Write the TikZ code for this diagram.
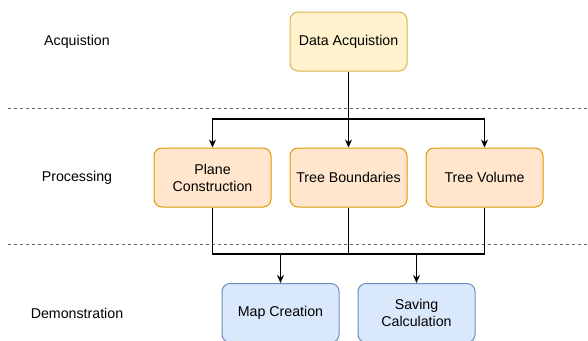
\documentclass[tikz,border=0pt]{standalone}
\usepackage{fontspec}
\setmainfont{Liberation Sans}
\usetikzlibrary{arrows.meta}

\definecolor{acqfill}{HTML}{FFF2CC}
\definecolor{acqline}{HTML}{D6B656}
\definecolor{procfill}{HTML}{FFE6CC}
\definecolor{procline}{HTML}{D79B00}
\definecolor{demofill}{HTML}{DAE8FC}
\definecolor{demoline}{HTML}{6C8EBF}

\tikzset{
  box/.style={draw, line width=1pt, rounded corners=8pt, minimum width=117pt, minimum height=59pt,
    inner sep=0pt, align=center, font=\fontsize{14.2}{17}\selectfont},
  acqbox/.style={box, fill=acqfill, draw=acqline},
  procbox/.style={box, fill=procfill, draw=procline},
  demobox/.style={box, fill=demofill, draw=demoline},
  lane/.style={font=\fontsize{14.2}{17}\selectfont},
  arr/.style={-{Stealth[length=8pt,width=7pt]}, line width=1.1pt},
  link/.style={line width=1.1pt}
}

\begin{document}
\begin{tikzpicture}[x=1pt, y=-1pt]
\useasboundingbox (0,0) rectangle (588,340);

\draw[black!60, line width=1pt, dash pattern=on 3pt off 3pt] (8,108) -- (588,108);
\draw[black!60, line width=1pt, dash pattern=on 3pt off 3pt] (8,244) -- (588,244);

\node (acqlabel) at (77,42) [lane] {Acquistion};
\node (proclabel) at (77,178) [lane] {Processing};
\node (demolabel) at (77,313) [lane] {Demonstration};

\node (data) at (348.5,41.5) [acqbox] {Data Acquistion};

\node (plane) at (212.5,177.5) [procbox] {Plane\\Construction};
\node (bound) at (348.5,177.5) [procbox] {Tree Boundaries};
\node (volume) at (484.5,177.5) [procbox] {Tree Volume};

\node (map) at (280.5,313) [demobox] {Map Creation};
\node (saving) at (416.5,313) [demobox] {Saving\\Calculation};

\coordinate (topbus) at (348.5,119);
\coordinate (leftbus) at (280.5,254);
\coordinate (rightbus) at (416.5,254);

\draw[arr] (data) -- (bound);
\draw[arr] (topbus) -| (plane);
\draw[arr] (topbus) -| (volume);

\draw[link] (plane.south) |- (leftbus) -| (bound.south);
\draw[link] (bound.south) |- (rightbus) -| (volume.south);
\draw[arr] (leftbus) -- (map);
\draw[arr] (rightbus) -- (saving);

\end{tikzpicture}
\end{document}
